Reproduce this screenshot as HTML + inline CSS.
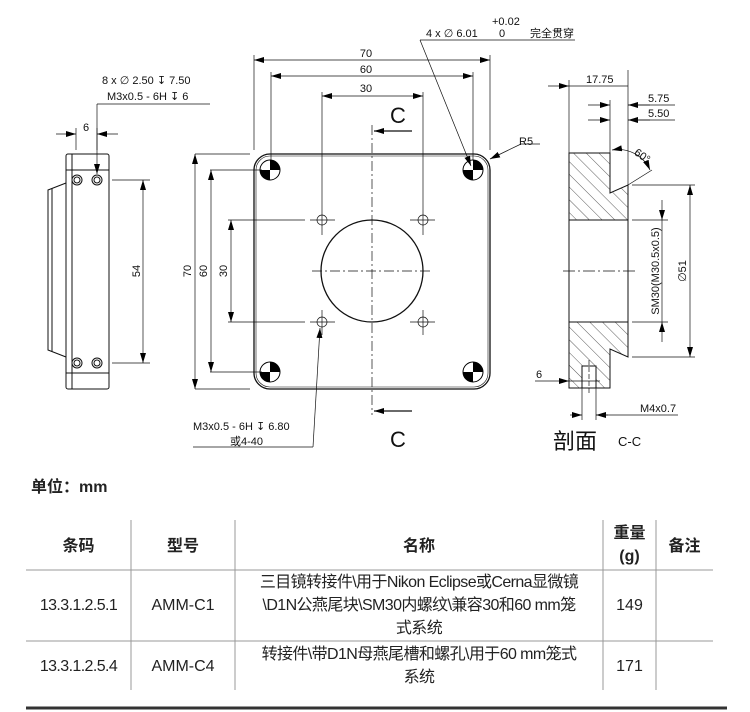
<!DOCTYPE html>
<html><head><meta charset="utf-8"><style>
body{margin:0;background:#fff;width:750px;height:712px;overflow:hidden;font-family:"Liberation Sans","Noto Sans CJK SC",sans-serif}
svg{position:absolute;left:0;top:0}
.t{position:absolute;font-size:16px;color:#222;text-align:center;line-height:23px;white-space:nowrap}
.h{font-weight:bold}
.n{letter-spacing:-0.6px}
</style></head><body>
<svg width="750" height="712" viewBox="0 0 750 712">
<defs>
<marker id="a" viewBox="0 0 10 6" refX="10" refY="3" markerWidth="10" markerHeight="6" orient="auto-start-reverse" markerUnits="userSpaceOnUse"><path d="M0,0L10,3L0,6z" fill="#000"/></marker>
<pattern id="hatch" width="9" height="9" patternUnits="userSpaceOnUse" patternTransform="rotate(-45)"><line x1="0" y1="0" x2="0" y2="9" stroke="#333" stroke-width="0.8"/></pattern>
</defs>
<g font-family="Liberation Sans, DejaVu Sans, Noto Sans CJK SC, sans-serif" font-size="11" fill="#111" stroke="none">
<!-- left view -->
<g stroke="#111" fill="none" stroke-width="1">
<rect x="66" y="154" width="43" height="235" rx="2"/>
<line x1="72" y1="154" x2="72" y2="389"/>
<line x1="66" y1="170" x2="109" y2="170"/><line x1="66" y1="373" x2="109" y2="373"/>
<path d="M66,183 L48,190 L48,350 L66,357"/>
<line x1="52" y1="188" x2="52" y2="352"/>
<circle cx="77" cy="180" r="5"/><circle cx="77" cy="180" r="3"/>
<circle cx="97" cy="180" r="5"/><circle cx="97" cy="180" r="3"/>
<circle cx="77" cy="363" r="5"/><circle cx="77" cy="363" r="3"/>
<circle cx="97" cy="363" r="5"/><circle cx="97" cy="363" r="3"/>
<g stroke-width="0.7">
<line x1="112" y1="180" x2="150" y2="180"/><line x1="112" y1="363" x2="150" y2="363"/>
<line x1="143" y1="180" x2="143" y2="363" marker-start="url(#a)" marker-end="url(#a)"/>
<line x1="76" y1="128" x2="76" y2="150"/><line x1="97" y1="128" x2="97" y2="150"/>
<line x1="56" y1="134" x2="76" y2="134" marker-end="url(#a)"/><line x1="118" y1="134" x2="97" y2="134" marker-end="url(#a)"/>
<line x1="97" y1="104" x2="97" y2="174" marker-end="url(#a)"/><line x1="97" y1="104" x2="210" y2="104"/>
</g></g>
<text x="86" y="131" text-anchor="middle">6</text>
<text x="102" y="84">8 x ∅ 2.50 ↧ 7.50</text>
<text x="107" y="100">M3x0.5 - 6H ↧ 6</text>
<text transform="translate(140,271) rotate(-90)" text-anchor="middle">54</text>
<!-- main plate -->
<g stroke="#111" fill="none">
<rect x="254" y="154" width="236" height="235" rx="16" stroke-width="1.3"/>
<rect x="256" y="156" width="232" height="231" rx="14" stroke-width="0.6"/>
<circle cx="372" cy="271" r="51" stroke-width="1.3"/>
<g stroke-width="0.7">
<circle cx="322" cy="220" r="5"/><circle cx="423" cy="220" r="5"/><circle cx="322" cy="322" r="5"/><circle cx="423" cy="322" r="5"/>
<path d="M310,220h25M410,220h25M310,322h25M410,322h25M322,205v30M423,205v30M322,310v25M423,310v25"/>
<line x1="372" y1="125" x2="372" y2="415" stroke-dasharray="10,3,2,3"/>
<line x1="312" y1="271" x2="432" y2="271" stroke-dasharray="10,3,2,3"/>
<line x1="254" y1="150" x2="254" y2="55"/><line x1="490" y1="150" x2="490" y2="55"/>
<line x1="254" y1="60" x2="490" y2="60" marker-start="url(#a)" marker-end="url(#a)"/>
<line x1="271" y1="160" x2="271" y2="72"/><line x1="473" y1="160" x2="473" y2="72"/>
<line x1="271" y1="76" x2="473" y2="76" marker-start="url(#a)" marker-end="url(#a)"/>
<line x1="322" y1="205" x2="322" y2="92"/><line x1="423" y1="205" x2="423" y2="92"/>
<line x1="322" y1="96" x2="423" y2="96" marker-start="url(#a)" marker-end="url(#a)"/>
<line x1="195" y1="154" x2="250" y2="154"/><line x1="195" y1="389" x2="250" y2="389"/>
<line x1="195" y1="154" x2="195" y2="389" marker-start="url(#a)" marker-end="url(#a)"/>
<line x1="210" y1="170" x2="262" y2="170"/><line x1="210" y1="372" x2="262" y2="372"/>
<line x1="211" y1="170" x2="211" y2="372" marker-start="url(#a)" marker-end="url(#a)"/>
<line x1="228" y1="220" x2="305" y2="220"/><line x1="228" y1="322" x2="305" y2="322"/>
<line x1="231" y1="220" x2="231" y2="322" marker-start="url(#a)" marker-end="url(#a)"/>
<line x1="420" y1="40" x2="471" y2="166" marker-end="url(#a)"/><line x1="420" y1="40" x2="575" y2="40"/>
<line x1="521" y1="144" x2="490" y2="159" marker-end="url(#a)"/><line x1="521" y1="144" x2="540" y2="144"/>
<line x1="313" y1="447" x2="320" y2="328" marker-end="url(#a)"/><line x1="193" y1="447" x2="313" y2="447"/>
<line x1="412" y1="131" x2="374" y2="131" marker-end="url(#a)" stroke-width="1.2"/>
<line x1="412" y1="411" x2="374" y2="411" marker-end="url(#a)" stroke-width="1.2"/>
</g></g>
<g>
<path d="M270,160a10,10 0 0,1 10,10h-10zM270,180a10,10 0 0,1 -10,-10h10z" fill="#000"/><circle cx="270" cy="170" r="10" fill="none" stroke="#000"/>
<path d="M473,160a10,10 0 0,1 10,10h-10zM473,180a10,10 0 0,1 -10,-10h10z" fill="#000"/><circle cx="473" cy="170" r="10" fill="none" stroke="#000"/>
<path d="M270,362a10,10 0 0,1 10,10h-10zM270,382a10,10 0 0,1 -10,-10h10z" fill="#000"/><circle cx="270" cy="372" r="10" fill="none" stroke="#000"/>
<path d="M473,362a10,10 0 0,1 10,10h-10zM473,382a10,10 0 0,1 -10,-10h10z" fill="#000"/><circle cx="473" cy="372" r="10" fill="none" stroke="#000"/>
</g>
<text x="366" y="57" text-anchor="middle">70</text>
<text x="366" y="73" text-anchor="middle">60</text>
<text x="366" y="92" text-anchor="middle">30</text>
<text transform="translate(191,271) rotate(-90)" text-anchor="middle">70</text>
<text transform="translate(207,271) rotate(-90)" text-anchor="middle">60</text>
<text transform="translate(227,271) rotate(-90)" text-anchor="middle">30</text>
<text x="492" y="25">+0.02</text>
<text x="426" y="37">4 x ∅ 6.01</text>
<text x="499" y="37">0</text>
<text x="530" y="37">完全贯穿</text>
<text x="519" y="145">R5</text>
<text x="193" y="430">M3x0.5 - 6H ↧ 6.80</text>
<text x="230" y="445">或4-40</text>
<text x="390" y="123" font-size="22">C</text>
<text x="390" y="447" font-size="22">C</text>
<!-- section -->
<g stroke="#111" stroke-width="1">
<path d="M569,153 H610 V193 L628,185 V220 H569 Z" fill="url(#hatch)"/>
<path d="M569,322 H628 V357 L610,349 V388 H569 Z" fill="url(#hatch)"/>
<rect x="582" y="366" width="14" height="22" fill="#fff"/>
<rect x="569" y="220" width="59" height="102" fill="#fff"/>
<g stroke-width="0.7" fill="none">
<line x1="628" y1="185" x2="628" y2="70"/><line x1="610" y1="153" x2="610" y2="100"/><line x1="569" y1="153" x2="569" y2="80"/>
<line x1="548" y1="86" x2="569" y2="86" marker-end="url(#a)"/><line x1="569" y1="86" x2="628" y2="86"/>
<line x1="588" y1="105" x2="610" y2="105" marker-end="url(#a)"/><line x1="650" y1="105" x2="628" y2="105" marker-end="url(#a)"/><line x1="628" y1="105" x2="675" y2="105"/>
<line x1="588" y1="120" x2="610" y2="120" marker-end="url(#a)"/><line x1="650" y1="120" x2="628" y2="120" marker-end="url(#a)"/><line x1="628" y1="120" x2="675" y2="120"/>
<path d="M612,150 A35,35 0 0,1 650,170" marker-start="url(#a)" marker-end="url(#a)"/>
<line x1="628" y1="185" x2="652" y2="170"/>
<line x1="632" y1="185" x2="695" y2="185"/><line x1="632" y1="357" x2="695" y2="357"/>
<line x1="690" y1="185" x2="690" y2="357" marker-start="url(#a)" marker-end="url(#a)"/>
<line x1="632" y1="220" x2="668" y2="220"/><line x1="632" y1="322" x2="668" y2="322"/>
<line x1="662" y1="200" x2="662" y2="220" marker-end="url(#a)"/><line x1="662" y1="220" x2="662" y2="322"/><line x1="662" y1="342" x2="662" y2="322" marker-end="url(#a)"/>
<line x1="563" y1="271" x2="636" y2="271" stroke-dasharray="12,3,2,3"/>
<line x1="589" y1="360" x2="589" y2="395" stroke-dasharray="5,2"/>
<line x1="535" y1="381" x2="569" y2="381" marker-end="url(#a)"/><line x1="569" y1="381" x2="600" y2="381"/>
<line x1="582" y1="388" x2="582" y2="420"/><line x1="596" y1="388" x2="596" y2="420"/>
<line x1="570" y1="415" x2="582" y2="415" marker-end="url(#a)"/><line x1="608" y1="415" x2="596" y2="415" marker-end="url(#a)"/><line x1="596" y1="415" x2="678" y2="415"/>
</g></g>
<text x="586" y="83">17.75</text>
<text x="648" y="102">5.75</text>
<text x="648" y="117">5.50</text>
<text x="634" y="158" transform="rotate(35 640 155)">60°</text>
<text transform="translate(659,271) rotate(-90)" text-anchor="middle">SM30(M30.5x0.5)</text>
<text transform="translate(686,271) rotate(-90)" text-anchor="middle">∅51</text>
<text x="536" y="378">6</text>
<text x="640" y="412">M4x0.7</text>
<text x="553" y="449" font-size="22">剖面</text>
<text x="618" y="446" font-size="13">C-C</text>
<!-- table -->
<g stroke="#999" stroke-width="1">
<line x1="26" y1="570" x2="713" y2="570"/><line x1="26" y1="641" x2="713" y2="641"/>
<line x1="131" y1="520" x2="131" y2="690"/><line x1="235" y1="520" x2="235" y2="690"/>
<line x1="603" y1="520" x2="603" y2="690"/><line x1="656" y1="520" x2="656" y2="690"/>
</g>
<line x1="26" y1="708" x2="727" y2="708" stroke="#333" stroke-width="3"/>
</g>
</svg>
<div class="t h" style="left:31px;top:476px;text-align:left">单位：mm</div>
<div class="t h" style="left:26px;top:535px;width:105px">条码</div>
<div class="t h" style="left:131px;top:535px;width:104px">型号</div>
<div class="t h" style="left:235px;top:535px;width:368px">名称</div>
<div class="t h" style="left:603px;top:522px;width:53px">重量<br>(g)</div>
<div class="t h" style="left:656px;top:535px;width:57px">备注</div>
<div class="t n" style="left:26px;top:594px;width:105px">13.3.1.2.5.1</div>
<div class="t" style="left:131px;top:594px;width:104px">AMM-C1</div>
<div class="t n" style="left:237px;top:571px;width:364px">三目镜转接件\用于Nikon Eclipse或Cerna显微镜<br>\D1N公燕尾块\SM30内螺纹\兼容30和60 mm笼<br>式系统</div>
<div class="t" style="left:603px;top:594px;width:53px">149</div>
<div class="t n" style="left:26px;top:655px;width:105px">13.3.1.2.5.4</div>
<div class="t" style="left:131px;top:655px;width:104px">AMM-C4</div>
<div class="t n" style="left:237px;top:643px;width:364px">转接件\带D1N母燕尾槽和螺孔\用于60 mm笼式<br>系统</div>
<div class="t" style="left:603px;top:655px;width:53px">171</div>
</body></html>
